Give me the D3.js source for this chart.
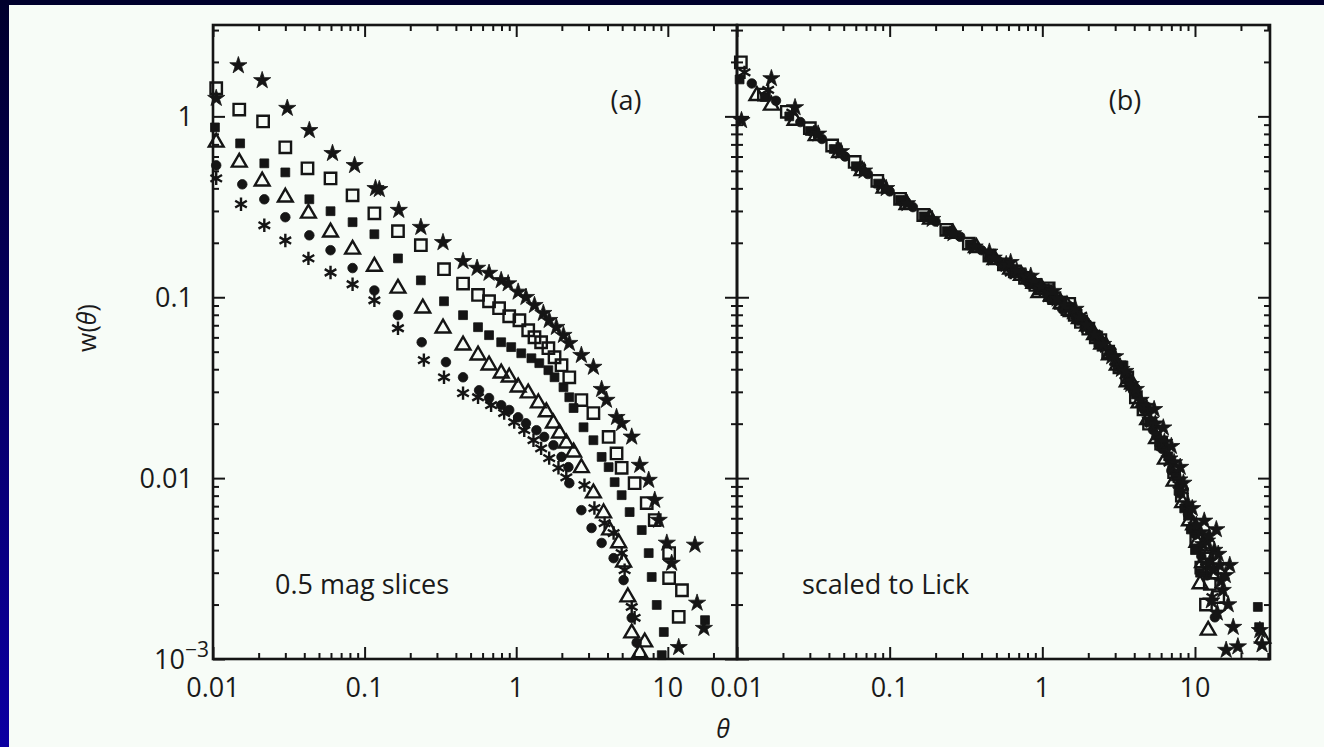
<!DOCTYPE html>
<html>
<head>
<meta charset="utf-8">
<script src="https://cdn.jsdelivr.net/npm/d3@7"></script>
<style>
html, body { margin: 0; padding: 0; background: #00002e; }
svg { display: block; }
text { font-family: "Open Sans", Lato, "DejaVu Sans", sans-serif; fill: #1a1a1a; }
</style>
</head>
<body>
<svg id="chart" width="1324" height="747"></svg>
<script>
// panel (a): 0.5 mag slices, [theta, w]
var starsA = [[0.0105,1.26],[0.0147,1.91],[0.0211,1.58],[0.0309,1.11],[0.0432,0.837],[0.0614,0.625],[0.0859,0.536],[0.118,0.400],[0.125,0.395],[0.168,0.303],[0.235,0.244],[0.329,0.201],[0.446,0.158],[0.552,0.145],[0.662,0.136],[0.796,0.124],[0.885,0.119],[1.03,0.107],[1.16,0.100],[1.32,0.0903],[1.51,0.0816],[1.65,0.0746],[1.84,0.0683],[2.05,0.0617],[2.24,0.0557],[2.69,0.0478],[3.23,0.0411],[3.66,0.0310],[3.94,0.0270],[4.59,0.0217],[4.96,0.0201],[5.78,0.0169],[6.53,0.0118],[7.48,0.00975],[8.20,0.00756],[8.71,0.00586],[9.85,0.00438],[10.6,0.00339],[15.1,0.00427],[15.6,0.00204],[17.3,0.00148],[11.8,0.00116]];
var openSqA = [[0.0105,1.43],[0.0149,1.09],[0.0214,0.938],[0.030,0.674],[0.042,0.516],[0.0596,0.454],[0.0833,0.366],[0.116,0.291],[0.166,0.232],[0.235,0.194],[0.334,0.143],[0.446,0.119],[0.56,0.103],[0.662,0.095],[0.771,0.087],[0.899,0.0785],[1.05,0.0746],[1.2,0.0657],[1.32,0.0601],[1.46,0.0564],[1.63,0.0523],[1.79,0.0466],[1.99,0.0421],[2.24,0.0361],[2.69,0.0270],[3.23,0.0229],[4.07,0.0169],[4.59,0.0137],[4.96,0.0114],[6.04,0.00938],[7.26,0.00728],[8.2,0.00586],[10.2,0.00385],[10.2,0.0028],[12.4,0.0024],[11.8,0.00171]];
var fillSqA = [[0.0103,0.869],[0.0151,0.709],[0.0218,0.55],[0.030,0.49],[0.0432,0.348],[0.0596,0.299],[0.0833,0.26],[0.116,0.223],[0.166,0.164],[0.235,0.124],[0.334,0.095],[0.446,0.0796],[0.56,0.0683],[0.662,0.0617],[0.796,0.0564],[0.927,0.053],[1.08,0.049],[1.26,0.046],[1.42,0.0432],[1.63,0.0395],[1.79,0.0361],[2.05,0.0318],[2.24,0.028],[2.39,0.0244],[2.78,0.0191],[3.23,0.0162],[3.66,0.0131],[4.07,0.0115],[4.46,0.0095],[4.96,0.00805],[5.6,0.00649],[6.73,0.00516],[7.48,0.00385],[7.83,0.00284],[8.45,0.00199],[9.41,0.00141],[9.12,0.00105],[17.6,0.00164]];
var triA = [[0.0105,0.718],[0.0149,0.557],[0.0211,0.438],[0.030,0.357],[0.0426,0.291],[0.0596,0.229],[0.0833,0.184],[0.116,0.148],[0.166,0.112],[0.242,0.087],[0.329,0.0674],[0.446,0.0543],[0.56,0.0478],[0.662,0.0421],[0.796,0.038],[0.899,0.0361],[1.03,0.0318],[1.2,0.0295],[1.4,0.026],[1.58,0.0232],[1.76,0.0201],[1.93,0.0177],[2.14,0.0156],[2.39,0.0139],[2.69,0.0114],[3.23,0.00826],[3.77,0.00641],[4.13,0.00516],[4.74,0.00438],[5.11,0.00343],[5.45,0.0022],[5.78,0.00139],[7.04,0.00124],[6.53,0.00108]];
var circA = [[0.0105,0.536],[0.0156,0.421],[0.0218,0.348],[0.030,0.277],[0.0432,0.22],[0.0596,0.182],[0.0833,0.145],[0.116,0.109],[0.166,0.0796],[0.238,0.0564],[0.344,0.0438],[0.446,0.0361],[0.569,0.0306],[0.662,0.0277],[0.796,0.0253],[0.899,0.0238],[1.03,0.0217],[1.16,0.0201],[1.36,0.0184],[1.53,0.0169],[1.76,0.0152],[1.99,0.0131],[2.21,0.0115],[2.24,0.00938],[2.69,0.00665],[3.14,0.0053],[3.66,0.00438],[4.39,0.00361],[5.11,0.00273],[5.78,0.00169],[6.23,0.00123]];
var astA = [[0.0105,0.454],[0.0153,0.327],[0.0218,0.25],[0.030,0.206],[0.0426,0.164],[0.0596,0.137],[0.0833,0.118],[0.116,0.0962],[0.166,0.0674],[0.246,0.0449],[0.334,0.0361],[0.446,0.0295],[0.56,0.028],[0.683,0.0253],[0.833,0.0229],[0.97,0.0204],[1.13,0.0184],[1.3,0.0162],[1.46,0.0146],[1.65,0.0129],[1.9,0.0114],[2.14,0.0101],[2.82,0.00915],[3.28,0.00683],[3.83,0.00564],[4.39,0.00497],[4.96,0.00385],[5.19,0.0031],[5.78,0.00194],[6.04,0.00169]];

// panel (b): scaled to Lick
var starsB = [[0.0107,0.95],[0.0168,1.62],[0.024,1.12],[0.034,0.80],[0.048,0.64],[0.068,0.50],[0.095,0.40],[0.13,0.33],[0.19,0.27],[0.26,0.225],[0.36,0.19],[0.45,0.178],[0.48,0.165],[0.58,0.152],[0.62,0.156],[0.68,0.14],[0.78,0.13],[0.84,0.131],[0.88,0.122],[0.98,0.114],[1.1,0.106],[1.18,0.108],[1.25,0.098],[1.4,0.090],[1.57,0.083],[1.65,0.086],[1.75,0.077],[1.95,0.070],[2.2,0.062],[2.5,0.055],[2.85,0.047],[3.0,0.047],[3.3,0.040],[3.5,0.039],[3.8,0.033],[4.1,0.031],[4.4,0.027],[4.8,0.025],[5.1,0.021],[5.4,0.024],[5.5,0.020],[5.9,0.0165],[6.2,0.019],[6.3,0.0158],[6.8,0.0128],[7.0,0.0150],[7.3,0.0122],[7.9,0.0098],[8.0,0.0115],[8.4,0.0094],[9.0,0.0072],[9.6,0.0068],[10.2,0.0055],[10.9,0.0050],[11.3,0.0043],[11.5,0.0058],[12.0,0.0045],[12.4,0.0048],[12.6,0.0035],[13.2,0.0031],[13.4,0.0040],[13.8,0.0052],[14.2,0.0038],[14.5,0.0033],[14.8,0.0027],[12.8,0.0021],[14.0,0.0018],[15.8,0.0029],[16.5,0.0020],[16.9,0.0033],[15.2,0.0024],[17.8,0.0015],[19.1,0.00117],[16.0,0.00112],[26.6,0.00144],[27.5,0.0012]];
var openSqB = [[0.0106,1.99],[0.0150,1.32],[0.0212,1.06],[0.030,0.86],[0.042,0.69],[0.059,0.56],[0.083,0.44],[0.117,0.35],[0.166,0.285],[0.235,0.236],[0.33,0.198],[0.45,0.17],[0.56,0.152],[0.66,0.139],[0.77,0.128],[0.90,0.117],[1.05,0.108],[1.1,0.112],[1.2,0.099],[1.32,0.093],[1.46,0.086],[1.5,0.092],[1.63,0.080],[1.79,0.073],[2.0,0.067],[2.24,0.060],[2.4,0.058],[2.7,0.050],[3.2,0.041],[3.6,0.036],[4.1,0.028],[4.6,0.024],[5.0,0.020],[6.0,0.0155],[7.3,0.0108],[8.2,0.0080],[10.2,0.0046],[11.0,0.0032],[12.0,0.0036],[13.0,0.0030],[14.2,0.0022],[12.5,0.0026],[11.8,0.0020]];
var fillSqB = [[0.0104,1.60],[0.0152,1.28],[0.022,1.0],[0.030,0.83],[0.043,0.66],[0.060,0.53],[0.084,0.425],[0.117,0.345],[0.167,0.28],[0.236,0.232],[0.335,0.196],[0.45,0.168],[0.56,0.149],[0.66,0.137],[0.72,0.137],[0.80,0.124],[0.93,0.115],[1.08,0.106],[1.15,0.098],[1.26,0.097],[1.42,0.089],[1.63,0.080],[1.79,0.074],[1.9,0.072],[2.05,0.066],[2.24,0.060],[2.4,0.055],[2.8,0.048],[3.2,0.041],[3.4,0.042],[3.7,0.034],[4.1,0.029],[4.5,0.025],[5.0,0.0205],[5.6,0.0172],[6.0,0.015],[6.7,0.0132],[7.5,0.0102],[7.8,0.0085],[8.5,0.0068],[9.0,0.0062],[9.4,0.0052],[10.0,0.0040],[10.8,0.0030],[25.8,0.00194],[26.3,0.0015]];
var triB = [[0.0135,1.30],[0.0168,1.15],[0.024,0.95],[0.033,0.78],[0.047,0.63],[0.066,0.50],[0.092,0.40],[0.13,0.325],[0.185,0.27],[0.26,0.225],[0.37,0.188],[0.49,0.161],[0.62,0.143],[0.73,0.132],[0.88,0.119],[0.95,0.106],[1.0,0.110],[1.15,0.101],[1.33,0.092],[1.45,0.09],[1.55,0.083],[1.75,0.076],[1.98,0.069],[2.2,0.062],[2.45,0.055],[2.6,0.054],[2.75,0.048],[3.1,0.042],[3.6,0.034],[3.9,0.033],[4.3,0.026],[4.9,0.021],[5.6,0.0165],[6.4,0.0127],[7.3,0.0096],[8.3,0.0073],[9.2,0.0058],[9.8,0.0055],[10.3,0.0044],[10.8,0.0026],[11.2,0.0034],[11.5,0.0042],[12.2,0.00144],[27.8,0.0013]];
var circB = [[0.0125,1.52],[0.018,1.22],[0.026,0.93],[0.036,0.75],[0.051,0.60],[0.072,0.48],[0.10,0.385],[0.142,0.315],[0.20,0.262],[0.29,0.216],[0.40,0.182],[0.52,0.158],[0.63,0.143],[0.75,0.130],[0.82,0.118],[0.86,0.121],[0.97,0.113],[1.12,0.104],[1.28,0.096],[1.35,0.086],[1.45,0.088],[1.66,0.080],[1.9,0.072],[2.15,0.064],[2.3,0.062],[2.45,0.057],[2.85,0.048],[3.3,0.040],[3.6,0.037],[3.9,0.031],[4.6,0.024],[5.3,0.0185],[6.1,0.0145],[7.0,0.011],[7.5,0.0105],[8.0,0.0082],[9.0,0.0063],[10.0,0.0049],[11.0,0.0037],[12.0,0.0029],[13.5,0.0017]];
var astB = [[0.0112,1.75],[0.016,1.40],[0.023,1.05],[0.032,0.82],[0.045,0.66],[0.064,0.52],[0.089,0.41],[0.125,0.335],[0.18,0.275],[0.25,0.228],[0.35,0.192],[0.47,0.165],[0.57,0.151],[0.62,0.137],[0.67,0.139],[0.78,0.128],[0.90,0.119],[1.03,0.110],[1.1,0.099],[1.17,0.102],[1.32,0.094],[1.5,0.086],[1.7,0.078],[1.8,0.079],[1.92,0.071],[2.2,0.063],[2.6,0.052],[2.8,0.05],[3.0,0.044],[3.5,0.037],[4.0,0.031],[4.6,0.025],[5.2,0.020],[6.0,0.0155],[6.8,0.0122],[7.8,0.0092],[8.3,0.0085],[8.8,0.0069],[9.8,0.0053],[10.8,0.0041],[11.8,0.0032],[13.0,0.0022]];

var xMajor = [0.01, 0.1, 1, 10];
var xLabels = ["0.01", "0.1", "1", "10"];
var yMajor = [0.001, 0.01, 0.1, 1];
var yLabels = ["10", "0.01", "0.1", "1"];

var svg = d3.select("#chart");
var W = 1324, H = 747;
var yTop = 25, yBot = 659;

// page background: dark top band, blue left strip, pale paper
var defs = svg.append("defs");
var grad = defs.append("linearGradient").attr("id", "strip").attr("x1", 0).attr("y1", 0).attr("x2", 0).attr("y2", 1);
grad.append("stop").attr("offset", "0%").attr("stop-color", "#00002c");
grad.append("stop").attr("offset", "100%").attr("stop-color", "#0c00a2");
svg.append("rect").attr("width", W).attr("height", H).attr("fill", "#00002c");
svg.append("rect").attr("x", 0).attr("y", 0).attr("width", 9).attr("height", H).attr("fill", "url(#strip)");
svg.append("rect").attr("x", 9).attr("y", 5).attr("width", W - 9).attr("height", H - 5).attr("fill", "#f7fcf7");

var y = d3.scaleLog().domain([0.001, 3.2]).range([yBot, yTop]);
var xA = d3.scaleLog().domain([0.01, 28.6]).range([213, 737]);
var xB = d3.scaleLog().domain([0.01, 31]).range([737, 1270]);

function minors(lo, hi) {
    var out = [];
    for (var e = -3; e <= 1; e++) {
        for (var m = 2; m <= 9; m++) {
            var v = +(m * Math.pow(10, e)).toPrecision(3);
            if (v > lo && v < hi) out.push(v);
        }
    }
    return out;
}

function ticks(g, axis, vals, len) {
    g.call(axis.tickValues(vals).tickSizeInner(-len).tickSizeOuter(0).tickFormat(""));
    g.select(".domain").remove();
    g.selectAll("line").attr("stroke", "#151515").attr("stroke-width", 2);
}

function frame(x, labelYAxis) {
    var x0 = x.range()[0], x1 = x.range()[1];
    var xm = minors(x.domain()[0], x.domain()[1]);
    var ym = minors(0.001, 3.2);
    var majX = xMajor.filter(function (v) { return v <= x.domain()[1]; });
    var sides = [
        [d3.axisBottom, x, "translate(0," + yBot + ")"],
        [d3.axisTop, x, "translate(0," + yTop + ")"],
        [d3.axisLeft, y, "translate(" + x0 + ",0)"],
        [d3.axisRight, y, "translate(" + x1 + ",0)"]
    ];
    sides.forEach(function (s, i) {
        var maj = i < 2 ? majX : yMajor;
        var mn = i < 2 ? xm : ym;
        ticks(svg.append("g").attr("transform", s[2]), s[0](s[1]), maj, 12);
        ticks(svg.append("g").attr("transform", s[2]), s[0](s[1]), mn, 6);
    });
    svg.append("rect").attr("x", x0).attr("y", yTop).attr("width", x1 - x0).attr("height", yBot - yTop)
        .attr("fill", "none").attr("stroke", "#151515").attr("stroke-width", 2.6);

    svg.selectAll(null).data(majX).enter().append("text")
        .attr("x", function (d) { return x(d); })
        .attr("y", 697)
        .attr("text-anchor", "middle")
        .attr("font-size", 27)
        .text(function (d, i) { return xLabels[i]; });

    if (labelYAxis) {
        var yl = svg.selectAll(null).data(yMajor).enter().append("text")
            .attr("x", function (d) { return d == 0.001 ? x0 - 4 : x0 - 20; })
            .attr("y", function (d) { return y(d) + 10; })
            .attr("text-anchor", "end")
            .attr("font-size", 27)
            .text(function (d, i) { return yLabels[i]; });
        yl.filter(function (d) { return d == 0.001; }).append("tspan")
            .attr("dy", -12).attr("font-size", 21).text("\u22123");
    }
}

frame(xA, true);
frame(xB, false);

var asterisk = {
    draw: function (p, size) {
        var r = Math.sqrt(size) * 0.6;
        for (var i = 0; i < 3; i++) {
            var a = Math.PI / 2 + i * Math.PI / 3;
            p.moveTo(r * Math.cos(a), r * Math.sin(a));
            p.lineTo(-r * Math.cos(a), -r * Math.sin(a));
        }
    }
};

function plot(x, list) {
    list.forEach(function (s) {
        var sym = d3.symbol().type(s.type).size(s.size);
        svg.append("g").selectAll("path").data(s.data).enter().append("path")
            .attr("transform", function (d) { return "translate(" + x(d[0]) + "," + y(d[1]) + ")"; })
            .attr("d", sym)
            .attr("fill", s.fill ? "#151515" : "none")
            .attr("stroke", "#151515")
            .attr("stroke-width", s.fill ? 0.8 : 2.4);
    });
}

var kinds = function (a, c, t, f, o, s) {
    return [
        {data: a, type: asterisk, size: 125, fill: false},
        {data: c, type: d3.symbolCircle, size: 72, fill: true},
        {data: t, type: d3.symbolTriangle, size: 95, fill: false},
        {data: f, type: d3.symbolSquare, size: 78, fill: true},
        {data: o, type: d3.symbolSquare, size: 130, fill: false},
        {data: s, type: d3.symbolStar, size: 92, fill: true}
    ];
};
plot(xA, kinds(astA, circA, triA, fillSqA, openSqA, starsA));
plot(xB, kinds(astB, circB, triB, fillSqB, openSqB, starsB));

svg.append("text").attr("x", 626).attr("y", 110).attr("text-anchor", "middle").attr("font-size", 27).text("(a)");
svg.append("text").attr("x", 1125).attr("y", 110).attr("text-anchor", "middle").attr("font-size", 27).text("(b)");
svg.append("text").attr("x", 275).attr("y", 594).attr("font-size", 27).text("0.5 mag slices");
svg.append("text").attr("x", 802).attr("y", 594).attr("font-size", 27).text("scaled to Lick");

var yt = svg.append("text").attr("transform", "translate(96,328) rotate(-90)")
    .attr("text-anchor", "middle").attr("font-size", 25);
yt.append("tspan").text("w(");
yt.append("tspan").attr("font-style", "italic").text("\u03b8");
yt.append("tspan").text(")");

svg.append("text").attr("x", 723).attr("y", 738).attr("text-anchor", "middle")
    .attr("font-size", 25).attr("font-style", "italic").text("\u03b8");
</script>
</body>
</html>
